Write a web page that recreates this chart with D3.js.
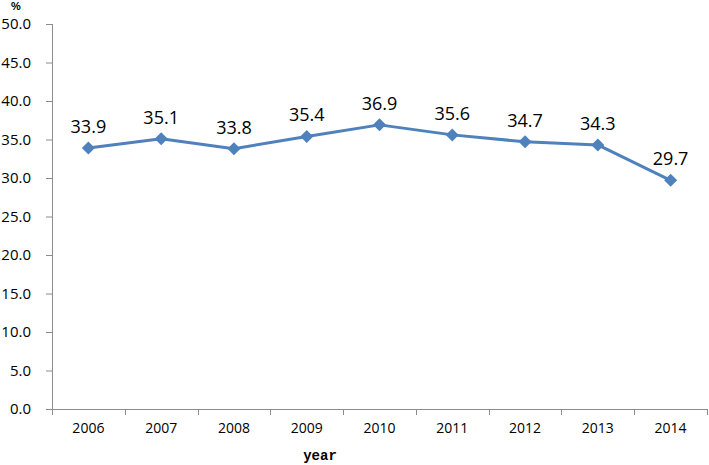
<!DOCTYPE html>
<html><head><meta charset="utf-8">
<script src="https://cdn.jsdelivr.net/npm/d3@7"></script>
<style>body{margin:0;background:#fff}svg{display:block}</style>
</head><body>
<svg id="c" width="709" height="465"></svg>
<script>
const years = ["2006","2007","2008","2009","2010","2011","2012","2013","2014"];
const values = [33.9,35.1,33.8,35.4,36.9,35.6,34.7,34.3,29.7];
const yTicks = [0,5,10,15,20,25,30,35,40,45,50];

const svg = d3.select("#c");
const x = d3.scaleBand().domain(years).range([52,707]);
const y = d3.scaleLinear().domain([0,50]).range([409,24]);
const axisColor = "#8c8c8c";
const font = "'Open Sans', 'Liberation Sans', sans-serif";

// y axis
const ya = svg.append("g").attr("transform","translate(52,0)")
  .call(d3.axisLeft(y).tickValues(yTicks).tickSize(6).tickPadding(15).tickFormat(d3.format(".1f")));
ya.select(".domain").attr("stroke",axisColor).attr("d","M0.5,24V409.5");
ya.selectAll(".tick line").attr("stroke",axisColor);
ya.selectAll(".tick text").attr("fill","#000").style("font-family",font).style("font-size","15px");

// x axis
const xa = svg.append("g").attr("transform","translate(0,409)")
  .call(d3.axisBottom(x).tickSize(0).tickPadding(14));
xa.select(".domain").attr("stroke",axisColor).attr("d","M52,0.5H707");
xa.selectAll(".tick text").attr("fill","#000").style("font-family",font).style("font-size","14px");
// boundary ticks
const bounds = years.map(d=>x(d)).concat([x.range()[1]]);
svg.append("g").selectAll("line").data(bounds).join("line")
  .attr("x1",d=>Math.round(d)+0.5).attr("x2",d=>Math.round(d)+0.5)
  .attr("y1",409).attr("y2",415).attr("stroke",axisColor);

// line
const cx = d=>x(d)+x.bandwidth()/2;
const line = d3.line().x((d,i)=>cx(years[i])).y(d=>y(d));
svg.append("path").datum(values).attr("d",line)
  .attr("fill","none").attr("stroke","#4F81BD").attr("stroke-width",3).attr("stroke-linejoin","round");

// markers
svg.append("g").selectAll("path").data(values).join("path")
  .attr("transform",(d,i)=>`translate(${cx(years[i])},${y(d)})`)
  .attr("d","M0,-6.5L6.5,0L0,6.5L-6.5,0Z").attr("fill","#4F81BD");

// data labels
svg.append("g").selectAll("text").data(values).join("text")
  .attr("x",(d,i)=>cx(years[i])).attr("y",d=>y(d)-15)
  .attr("text-anchor","middle").style("font-family",font).style("font-size","18px")
  .text(d=>d.toFixed(1));

// unit
svg.append("text").attr("x",16).attr("y",10).attr("text-anchor","middle")
  .style("font-family","'Liberation Sans', sans-serif").style("font-size","11px").style("font-weight","bold").text("%");
// x title
svg.append("text").attr("x",320).attr("y",460).attr("text-anchor","middle")
  .style("font-family","'Liberation Mono', monospace").style("font-size","14px").style("font-weight","bold").text("year");
</script>
</body></html>
